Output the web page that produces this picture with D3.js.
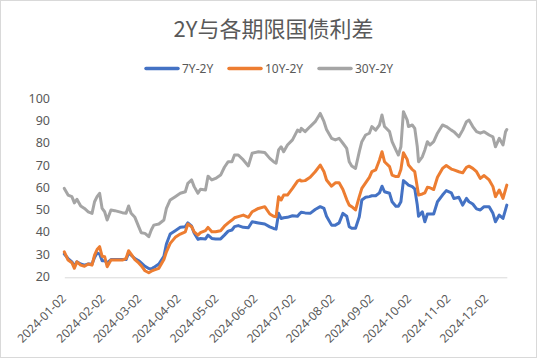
<!DOCTYPE html>
<html><head><meta charset="utf-8">
<script src="https://cdn.jsdelivr.net/npm/d3@7"></script>
<style>body{margin:0;background:#fff}svg{display:block}</style>
</head><body>
<script>
const title = "2Y与各期限国债利差";
const seriesNames = ["7Y-2Y", "10Y-2Y", "30Y-2Y"];
const seriesColors = ["#4472C4", "#ED7D31", "#A5A5A5"];
const yTicks = [20, 30, 40, 50, 60, 70, 80, 90, 100];
const xTickLabels = ["2024-01-02","2024-02-02","2024-03-02","2024-04-02","2024-05-02","2024-06-02","2024-07-02","2024-08-02","2024-09-02","2024-10-02","2024-11-02","2024-12-02"];

const dates = ["01-02","01-05","01-08","01-10","01-12","01-15","01-18","01-21","01-24","01-26","01-28","01-30",
"02-01","02-03","02-05","02-08","02-11","02-17","02-20","02-22","02-24","02-27",
"03-01","03-03","03-06","03-09","03-11","03-13","03-17","03-21","03-23","03-26","03-30",
"04-03","04-07","04-09","04-12","04-14","04-17","04-19","04-23","04-25","04-28",
"05-01","05-05","05-08","05-11","05-14","05-16","05-19","05-23","05-27","05-30",
"06-04","06-09","06-13","06-16","06-18","06-20","06-22","06-24","06-27",
"07-01","07-05","07-07","07-08","07-11","07-15","07-19","07-23","07-26","07-28",
"08-01","08-04","08-07","08-10","08-13","08-15","08-17","08-20","08-23","08-25","08-28","08-31",
"09-02","09-05","09-08","09-10","09-12","09-16","09-18","09-21","09-23","09-25","09-27","09-30",
"10-01","10-04","10-06","10-08","10-09","10-12","10-14","10-16","10-18","10-21","10-24","10-28","10-31",
"11-04","11-06","11-10","11-13","11-16","11-18","11-21","11-24","11-27","11-30",
"12-04","12-07","12-09","12-12","12-15","12-17","12-18"].map(d => "2024-" + d);

const s7y = [30,28,26.5,24.5,26.5,25.5,25,25.5,25.5,28.5,30.5,30,
27,27,26,27.5,27.5,27.5,27.5,30.5,29.5,28,
27,26,24.5,23.5,23.3,24,25.5,29,34.5,39,40.5,
42,42.3,44,42.5,39.5,36.6,37,36.8,38.5,37,
36.8,36.8,38.5,40.3,40.8,42.3,42.8,42,41.8,44.5,
44,43.5,42.2,41.5,41.2,48.3,46,46.3,46.5,
47.2,47,48.3,48.8,48.5,48.3,50,51.3,50.5,47,
43,43,44,48.3,47,42.3,41.6,41.6,46.8,54.3,55.5,55.8,
56.2,56.2,57.5,60.5,58,57.3,53.5,51.5,51.5,53.5,63,61.5,
61,60.3,59.3,52,47,49,44.5,48,48,48,53.5,56.5,58.5,
57.5,55,55.5,52,55,53.5,52.5,50.3,49.8,51.3,
51.3,48.3,44.5,47.5,46,50,52];

const s10y = [31,27.3,26.1,23.6,26.5,25,24.5,25.5,25,29.5,32,33.3,
29,28.8,24.3,27.3,27.3,27.3,28,31.5,30,27.5,
26,24.8,22.5,21.6,22.3,22.8,23.6,27.5,31,34.8,37.5,
39,40,43.5,42.3,40,38.5,39.6,40.5,42,40,
40,40.5,42.5,44,45.3,46.3,46.8,47.5,46.5,49,
50.5,51.3,48,47,46.8,55.8,54.3,56.5,56.5,
59.5,62.8,63.3,62.8,63,64.5,67,70,67,63.3,
60.5,62,62,59,54.5,52,51.3,49.8,55.8,59.5,62,64.5,
67,67.8,72.3,76,71.5,69.3,65.5,64.8,64.8,68,75.5,72.5,
70,68,67,60,56.5,57,57.5,60,59.8,59,64.5,68.5,69.8,
68.2,67.8,67,66.5,69,69.5,68.5,67,64,65.3,
63.3,60.3,55.8,58.8,55,59,61];

const s30y = [59.5,56.5,55.8,53,54.6,51.6,50.5,49,48.3,53.5,55.8,57.3,
50.5,49,45.3,49.8,49.5,48.6,48.3,51.6,48.3,46.5,
42.3,39.6,39.3,37.8,40.8,43,43.5,45.3,50.5,54.3,55.8,
57.3,58,61.8,63.3,60.3,57.3,59.1,58.8,65,63.3,
64,65.5,69,71.5,71.5,74.5,74.5,72.3,69.6,75.3,
76,75.6,73,71.5,70.8,76.8,78.2,76,79,
81.3,85.7,85,86.5,85,87.3,89.5,93.2,89.5,86,
82,81.3,82,79.8,77.5,71.5,69.6,68.5,76,80.5,83.5,84.3,
87.3,85.7,88,92.5,87.3,85,80.5,76.8,74.5,78.2,94,90.2,
87.3,88,86.5,78.2,71.5,73.7,76.8,80.5,79,80.5,84.3,88,87.3,
85.7,85,82.7,85.7,89.5,90.2,87.3,85,84.3,85,
83.5,82.7,78.2,82,79,85,86];

const seriesValues = [s7y, s10y, s30y];

const W = 537, H = 358;
const svg = d3.select("body").append("svg").attr("width", W).attr("height", H);
svg.append("rect").attr("x",0.5).attr("y",0.5).attr("width",W-1).attr("height",H-1)
  .attr("fill","#fff").attr("stroke","#d9d9d9");

const parse = d3.timeParse("%Y-%m-%d");
const dateObjs = dates.map(parse);
const x = d3.scaleTime().domain(d3.extent(dateObjs)).range([64.3, 506.8]);
const y = d3.scaleLinear().domain([20, 100]).range([276.3, 98.3]);

const font = "'Noto Sans', 'Noto Sans CJK SC', sans-serif";
const txt = "#595959";

svg.append("text").attr("x", 273.5).attr("y", 37).attr("text-anchor","middle")
  .attr("font-family", "'Noto Sans CJK SC', sans-serif").attr("font-size", 22).attr("fill", txt).text(title);

// legend
const legendX = [146, 229, 319];
seriesNames.forEach((n, i) => {
  const g = svg.append("g").attr("transform", `translate(${legendX[i]},68.5)`);
  g.append("line").attr("x1",0).attr("x2",32).attr("y1",0).attr("y2",0)
    .attr("stroke", seriesColors[i]).attr("stroke-width",3.5).attr("stroke-linecap","round");
  g.append("text").attr("x",36).attr("y",4.5).attr("font-family",font).attr("font-size",12).attr("fill",txt).text(n);
});

// y axis labels
const yAxis = d3.axisLeft(y).tickValues(yTicks).tickSize(0).tickPadding(0);
const yg = svg.append("g").attr("transform","translate(50,0)").call(yAxis);
yg.select(".domain").remove();
yg.selectAll("text").attr("font-family",font).attr("font-size",12.5).attr("fill",txt);

// x axis
const tickDates = xTickLabels.map(parse);
const xAxis = d3.axisBottom(x).tickValues(tickDates).tickSize(0).tickPadding(0).tickFormat(d3.timeFormat("%Y-%m-%d"));
const xg = svg.append("g").attr("transform", `translate(0,${y(20)+1})`).call(xAxis);
xg.select(".domain").attr("stroke","#d9d9d9").attr("stroke-width",1);
xg.selectAll("text").attr("font-family",font).attr("font-size",12).attr("fill",txt)
  .attr("text-anchor","end").attr("dy",null).attr("y",0)
  .attr("transform","translate(2,22) rotate(-45)");

// lines
const line = d3.line().x((d,i) => x(dateObjs[i])).y(d => y(d));
seriesValues.forEach((vals, i) => {
  svg.append("path").datum(vals).attr("d", line).attr("fill","none")
    .attr("stroke", seriesColors[i]).attr("stroke-width", 3).attr("stroke-linejoin","round").attr("stroke-linecap","round");
});
</script>
</body></html>
